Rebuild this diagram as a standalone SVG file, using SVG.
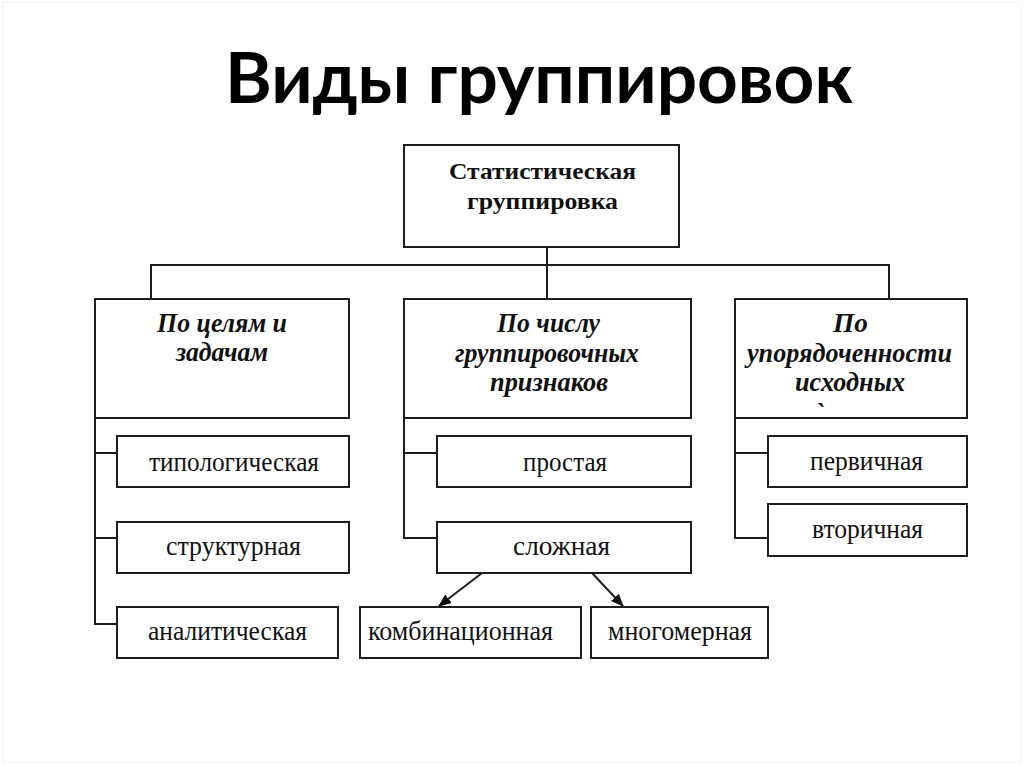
<svg xmlns="http://www.w3.org/2000/svg" width="1024" height="767" viewBox="0 0 1024 767">
<defs>
<style>
.box{fill:#fff;stroke:#1e1e1e;stroke-width:2}
.ln{fill:none;stroke:#1e1e1e;stroke-width:2}
.title{font-family:Lato,"Open Sans","Liberation Sans",sans-serif;font-weight:bold;font-size:70px;fill:#000}
.top{font-family:"Liberation Serif","Times New Roman",serif;font-weight:bold;font-size:24px;fill:#111}
.hd{font-family:"Liberation Serif","Times New Roman",serif;font-weight:bold;font-style:italic;font-size:27px;fill:#111}
.lf{font-family:"Liberation Serif","Times New Roman",serif;font-size:28px;fill:#111}
</style>
<marker id="arr" viewBox="0 0 10 10" refX="9" refY="5" markerWidth="7" markerHeight="7" orient="auto" markerUnits="userSpaceOnUse">
<path d="M0,0 L10,5 L0,10 z" fill="#111"/>
</marker>
<marker id="arrow" viewBox="0 0 12 10" refX="11" refY="5" markerWidth="13" markerHeight="11" orient="auto" markerUnits="userSpaceOnUse">
<path d="M0,0 L12,5 L0,10 z" fill="#111"/>
</marker>
</defs>
<rect x="0" y="0" width="1024" height="767" fill="#fff"/>
<rect x="3" y="2" width="1018" height="760" fill="none" stroke="#f0f0f0" stroke-width="1"/>

<text class="title" x="225" y="103" textLength="628" lengthAdjust="spacingAndGlyphs">Виды группировок</text>

<g id="connectors">
<path class="ln" d="M547,247 V299"/>
<path class="ln" d="M151,299 V265 H889 V299"/>
<path class="ln" d="M95,418 V624 H117 M95,453 H117 M95,538 H117"/>
<path class="ln" d="M404,418 V538 H437 M404,453 H437"/>
<path class="ln" d="M735,418 V538 H768 M735,453 H768"/>
<line class="ln" x1="482" y1="573" x2="439" y2="606" marker-end="url(#arrow)"/>
<line class="ln" x1="592" y1="573" x2="623" y2="606" marker-end="url(#arrow)"/>
</g>

<g id="n-root">
<rect class="box" x="404" y="145" width="275" height="102"/>
<text class="top" x="449" y="179" textLength="187" lengthAdjust="spacingAndGlyphs">Статистическая</text>
<text class="top" x="467" y="209" textLength="151" lengthAdjust="spacingAndGlyphs">группировка</text>
</g>

<g id="n-goals">
<rect class="box" x="95" y="299" width="254" height="119"/>
<text class="hd" x="157" y="332" textLength="130" lengthAdjust="spacingAndGlyphs">По целям и</text>
<text class="hd" x="176" y="361" textLength="92" lengthAdjust="spacingAndGlyphs">задачам</text>
</g>

<g id="n-number">
<rect class="box" x="404" y="299" width="287" height="119"/>
<text class="hd" x="497" y="332" textLength="103" lengthAdjust="spacingAndGlyphs">По числу</text>
<text class="hd" x="455" y="362" textLength="184" lengthAdjust="spacingAndGlyphs">группировочных</text>
<text class="hd" x="490" y="391" textLength="118" lengthAdjust="spacingAndGlyphs">признаков</text>
</g>

<g id="n-order">
<rect class="box" x="735" y="299" width="232" height="119"/>
<text class="hd" x="833" y="332" textLength="35" lengthAdjust="spacingAndGlyphs">По</text>
<text class="hd" x="747" y="362" textLength="205" lengthAdjust="spacingAndGlyphs">упорядоченности</text>
<text class="hd" x="795" y="391" textLength="110" lengthAdjust="spacingAndGlyphs">исходных</text>
<text class="hd" x="815" y="422">`</text>
</g>

<g id="n-typo">
<rect class="box" x="117" y="436" width="232" height="51"/>
<text class="lf" x="149" y="471" textLength="170" lengthAdjust="spacingAndGlyphs">типологическая</text>
</g>
<g id="n-struct">
<rect class="box" x="117" y="522" width="232" height="51"/>
<text class="lf" x="166" y="555" textLength="135" lengthAdjust="spacingAndGlyphs">структурная</text>
</g>
<g id="n-anal">
<rect class="box" x="117" y="607" width="221" height="51"/>
<text class="lf" x="148" y="640" textLength="159" lengthAdjust="spacingAndGlyphs">аналитическая</text>
</g>

<g id="n-simple">
<rect class="box" x="437" y="436" width="254" height="51"/>
<text class="lf" x="523" y="471" textLength="84" lengthAdjust="spacingAndGlyphs">простая</text>
</g>
<g id="n-complex">
<rect class="box" x="437" y="522" width="254" height="51"/>
<text class="lf" x="513" y="555" textLength="97" lengthAdjust="spacingAndGlyphs">сложная</text>
</g>
<g id="n-comb">
<rect class="box" x="360" y="607" width="221" height="51"/>
<text class="lf" x="368" y="640" textLength="185" lengthAdjust="spacingAndGlyphs">комбинационная</text>
</g>
<g id="n-multi">
<rect class="box" x="591" y="607" width="177" height="51"/>
<text class="lf" x="608" y="640" textLength="144" lengthAdjust="spacingAndGlyphs">многомерная</text>
</g>

<g id="n-primary">
<rect class="box" x="768" y="436" width="199" height="51"/>
<text class="lf" x="810" y="470" textLength="113" lengthAdjust="spacingAndGlyphs">первичная</text>
</g>
<g id="n-secondary">
<rect class="box" x="768" y="504" width="199" height="52"/>
<text class="lf" x="812" y="538" textLength="111" lengthAdjust="spacingAndGlyphs">вторичная</text>
</g>
</svg>
